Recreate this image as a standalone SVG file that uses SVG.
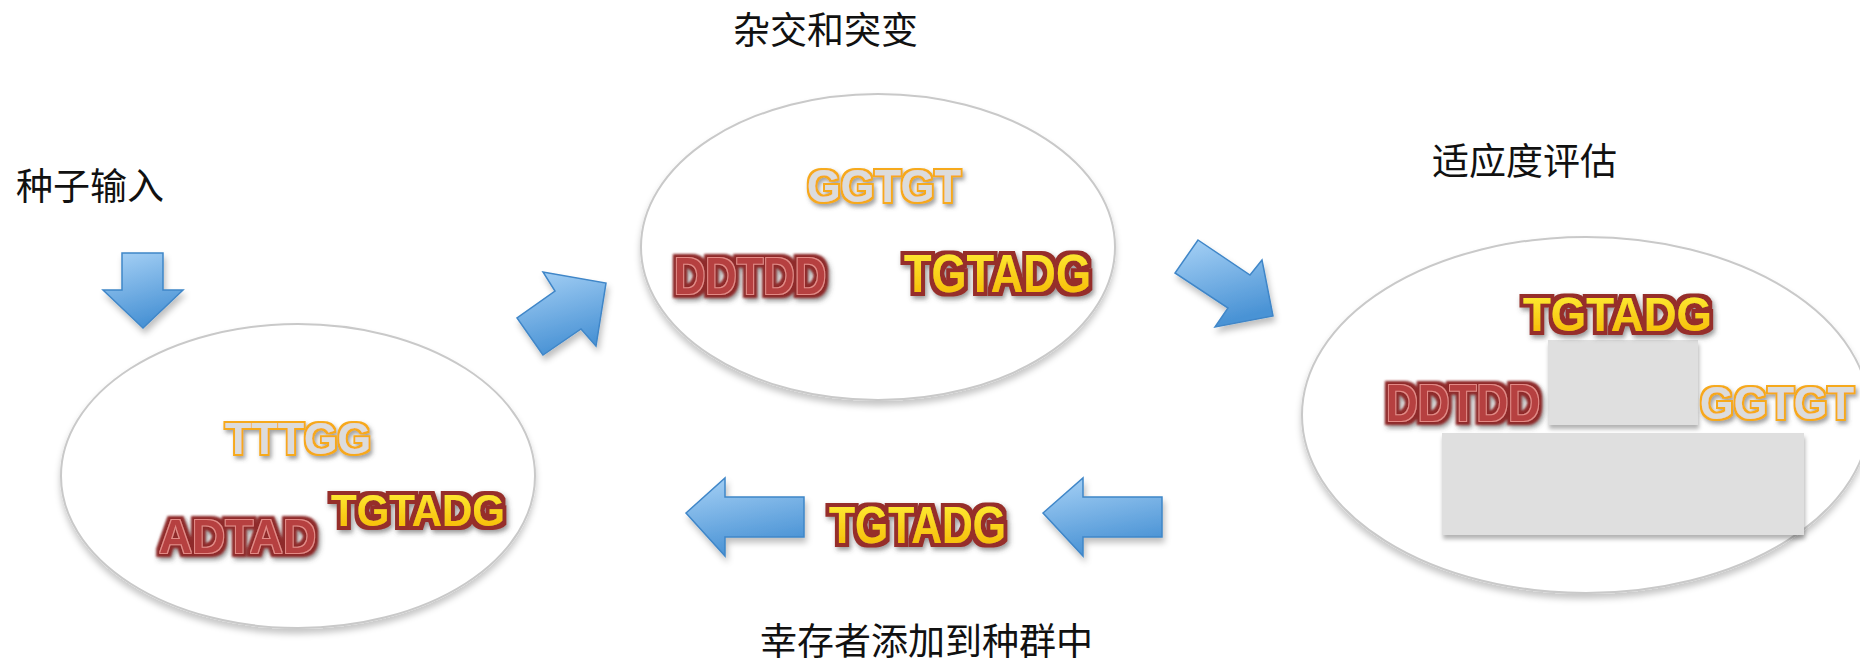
<svg xmlns="http://www.w3.org/2000/svg" width="1860" height="664" viewBox="0 0 1860 664">
<style>
.lbl{font-family:"Noto Sans CJK SC","Noto Sans",sans-serif;font-size:37px;fill:#111}
.dna{font-family:"Liberation Sans",Arial,sans-serif;font-weight:bold}
.ora{fill:#dcdcdc;filter:url(#fOra)}
.yel{fill:url(#gYel);filter:url(#fYel)}
.red{fill:#b63f3f;filter:url(#fRed)}
.cell{fill:#fff;stroke:#c9c9c9;stroke-width:2;filter:url(#fEll)}
.arr{fill:url(#gBlue);stroke:#3f86c8;stroke-width:1.5;stroke-linejoin:miter;filter:url(#fArr)}
.box{fill:#dfdfdf;filter:url(#fBox)}
</style>
<defs>
<linearGradient id="gBlue" x1="0" y1="0" x2="0.3" y2="1">
<stop offset="0" stop-color="#a8d2f6"/><stop offset="1" stop-color="#4a93d5"/>
</linearGradient>
<linearGradient id="gYel" x1="0" y1="0" x2="0" y2="1">
<stop offset="0" stop-color="#fff23a"/><stop offset="1" stop-color="#f5b400"/>
</linearGradient>
<filter id="fEll" x="-5%" y="-5%" width="110%" height="115%">
<feGaussianBlur in="SourceAlpha" stdDeviation="3"/><feOffset dx="0" dy="5" result="b"/>
<feFlood flood-color="#000" flood-opacity="0.22"/><feComposite in2="b" operator="in" result="s"/>
<feMerge><feMergeNode in="s"/><feMergeNode in="SourceGraphic"/></feMerge>
</filter>
<filter id="fArr" x="-20%" y="-20%" width="150%" height="150%">
<feGaussianBlur in="SourceAlpha" stdDeviation="3"/><feOffset dx="2" dy="5" result="b"/>
<feFlood flood-color="#000" flood-opacity="0.25"/><feComposite in2="b" operator="in" result="s"/>
<feMerge><feMergeNode in="s"/><feMergeNode in="SourceGraphic"/></feMerge>
</filter>
<filter id="fBox" x="-5%" y="-5%" width="110%" height="120%">
<feGaussianBlur in="SourceAlpha" stdDeviation="2"/><feOffset dx="1" dy="4" result="b"/>
<feFlood flood-color="#000" flood-opacity="0.3"/><feComposite in2="b" operator="in" result="s"/>
<feMerge><feMergeNode in="s"/><feMergeNode in="SourceGraphic"/></feMerge>
</filter>
<filter id="fOra" x="-10%" y="-30%" width="120%" height="160%">
<feMorphology in="SourceAlpha" operator="dilate" radius="2.2" result="o"/>
<feGaussianBlur in="o" stdDeviation="2"/><feOffset dx="2" dy="3" result="ob"/>
<feFlood flood-color="#555" flood-opacity="0.55"/><feComposite in2="ob" operator="in" result="sh"/>
<feFlood flood-color="#f6a91a"/><feComposite in2="o" operator="in" result="oc"/>
<feMerge><feMergeNode in="sh"/><feMergeNode in="oc"/><feMergeNode in="SourceGraphic"/></feMerge>
</filter>
<filter id="fYel" x="-10%" y="-30%" width="120%" height="160%">
<feMorphology in="SourceAlpha" operator="dilate" radius="4" result="o"/>
<feGaussianBlur in="o" stdDeviation="2.5"/><feOffset dx="2" dy="3" result="ob"/>
<feFlood flood-color="#444" flood-opacity="0.55"/><feComposite in2="ob" operator="in" result="sh"/>
<feGaussianBlur in="o" stdDeviation="0.7" result="o2"/>
<feFlood flood-color="#962f2c"/><feComposite in2="o2" operator="in" result="oc"/>
<feMerge><feMergeNode in="sh"/><feMergeNode in="oc"/><feMergeNode in="SourceGraphic"/></feMerge>
</filter>
<filter id="fRed" x="-10%" y="-30%" width="120%" height="160%">
<feMorphology in="SourceAlpha" operator="dilate" radius="4" result="o"/>
<feGaussianBlur in="o" stdDeviation="2.5"/><feOffset dx="2" dy="3" result="ob"/>
<feFlood flood-color="#444" flood-opacity="0.55"/><feComposite in2="ob" operator="in" result="sh"/>
<feGaussianBlur in="o" stdDeviation="0.8" result="o2"/>
<feFlood flood-color="#8f2a2a"/><feComposite in2="o2" operator="in" result="oc"/>
<feMorphology in="SourceAlpha" operator="dilate" radius="1.3" result="m"/>
<feFlood flood-color="#e38a86"/><feComposite in2="m" operator="in" result="mc"/>
<feMerge><feMergeNode in="sh"/><feMergeNode in="oc"/><feMergeNode in="mc"/><feMergeNode in="SourceGraphic"/></feMerge>
</filter>
</defs>
<g id="label-seed"><text class="lbl" x="16" y="200">种子输入</text></g>
<g id="label-cross"><text class="lbl" x="733" y="44">杂交和突变</text></g>
<g id="label-fitness"><text class="lbl" x="1432" y="175">适应度评估</text></g>
<g id="label-survivor"><text class="lbl" x="760" y="655">幸存者添加到种群中</text></g>
<g id="population">
<ellipse class="cell" cx="298" cy="476" rx="237" ry="152"/>
<text class="dna ora" x="225" y="454" font-size="45" textLength="146" lengthAdjust="spacingAndGlyphs">TTTGG</text>
<text class="dna yel" x="331" y="526" font-size="45" textLength="174" lengthAdjust="spacingAndGlyphs">TGTADG</text>
<text class="dna red" x="159" y="553" font-size="49" textLength="157" lengthAdjust="spacingAndGlyphs">ADTAD</text>
</g>
<g id="crossover">
<ellipse class="cell" cx="878" cy="247" rx="237" ry="153"/>
<text class="dna ora" x="807" y="202" font-size="47" textLength="154" lengthAdjust="spacingAndGlyphs">GGTGT</text>
<text class="dna red" x="674" y="294" font-size="52" textLength="152" lengthAdjust="spacingAndGlyphs">DDTDD</text>
<text class="dna yel" x="904" y="292" font-size="54" textLength="187" lengthAdjust="spacingAndGlyphs">TGTADG</text>
</g>
<g id="fitness">
<ellipse class="cell" cx="1586" cy="415" rx="284" ry="178"/>
<rect class="box" x="1548" y="340" width="150" height="85"/>
<rect class="box" x="1442" y="433" width="362" height="102"/>
<text class="dna yel" x="1523" y="331" font-size="48" textLength="189" lengthAdjust="spacingAndGlyphs">TGTADG</text>
<text class="dna red" x="1386" y="421" font-size="51" textLength="154" lengthAdjust="spacingAndGlyphs">DDTDD</text>
<text class="dna ora" x="1700" y="419" font-size="46" textLength="154" lengthAdjust="spacingAndGlyphs">GGTGT</text>
</g>
<g id="survivor">
<text class="dna yel" x="829" y="543" font-size="51" textLength="177" lengthAdjust="spacingAndGlyphs">TGTADG</text>
</g>
<g id="connectors">
<polygon class="arr" points="122,253 163,253 163,290 183,290 143,328 103,290 122,290"/>
<polygon class="arr" points="543,355 517,318 555,291 543,272 606,283 596,346 581,329"/>
<polygon class="arr" points="1198,240 1250,275 1262,260 1273,316 1215,327 1228,308 1175,273"/>
<polygon class="arr" points="1043,513 1083,478 1083,497 1162,497 1162,537 1083,537 1083,556"/>
<polygon class="arr" points="686,513 725,478 725,497 804,497 804,537 725,537 725,556"/>
</g>
</svg>
